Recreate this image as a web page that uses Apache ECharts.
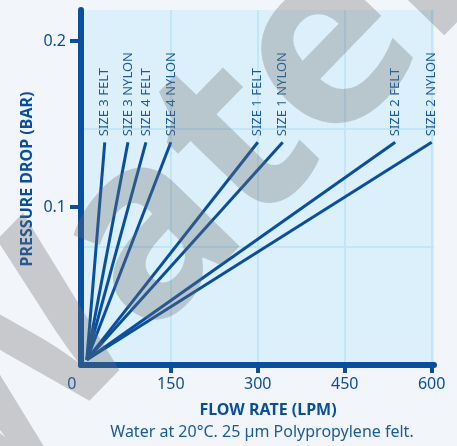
<!DOCTYPE html>
<html><head><meta charset="utf-8">
<script src="https://cdn.jsdelivr.net/npm/echarts@6/dist/echarts.min.js"></script>
<style>html,body{margin:0;padding:0;background:#f2f5f9;}#c{width:457px;height:446px;}</style>
</head><body><div id="c"></div>
<script>
const seriesNames = ['SIZE 3 FELT','SIZE 3 NYLON','SIZE 4 FELT','SIZE 4 NYLON','SIZE 1 FELT','SIZE 1 NYLON','SIZE 2 FELT','SIZE 2 NYLON'];
const startFlow = 5;
const startDrop = 0.008;
const endFlow = [36, 76, 107, 150, 300, 343, 537, 600];
const endDrop = [0.139, 0.139, 0.139, 0.139, 0.139, 0.139, 0.139, 0.139];
const xTicks = [0, 150, 300, 450, 600];
const yTicks = [0.1, 0.2];
const xTitle = 'FLOW RATE (LPM)';
const yTitle = 'PRESSURE DROP (BAR)';
const note = 'Water at 20°C. 25 µm Polypropylene felt.';
const watermark = 'Water';

const blue = '#0a4f9e';
const font = 'Noto Sans';
const chart = echarts.init(document.getElementById('c'), null, {renderer:'canvas'});
chart.setOption({
  backgroundColor: '#f2f5f9',
  animation: false,
  grid: [{left: 81, right: 23, top: 10, bottom: 81, show: true, backgroundColor: '#dcf0fc', borderWidth: 0}],
  xAxis: [{
    type: 'value', min: -5, max: 604,
    axisLine: {show: true, onZero: false, lineStyle: {color: blue, width: 6}},
    axisTick: {show: true, length: 8, lineStyle: {color: blue, width: 4}, customValues: xTicks.slice(1)},
    axisLabel: {customValues: xTicks, color: blue, fontSize: 16, fontFamily: font, margin: 11,
      formatter: v => v === 0 ? '{z|0}' : String(v),
      rich: {z: {color: blue, fontSize: 16, fontFamily: font, padding: [0, 24, 0, 0]}}},
    splitLine: {show: true, lineStyle: {color: '#c2e5f8', width: 2}}
  }],
  yAxis: [{
    type: 'value', min: 0.0048, max: 0.2187,
    axisLine: {show: true, onZero: false, lineStyle: {color: blue, width: 6}},
    axisTick: {show: true, length: 11, lineStyle: {color: blue, width: 4}, customValues: yTicks},
    axisLabel: {customValues: yTicks, color: blue, fontSize: 16, fontFamily: font, margin: 15, formatter: v => String(v)},
    splitLine: {show: false}
  }, {
    type: 'value', min: 0, max: 3, interval: 1, position: 'right',
    axisLine: {show: false}, axisTick: {show: false, customValues: [1, 2]}, axisLabel: {show: false},
    splitLine: {show: true, lineStyle: {color: '#c2e5f8', width: 2}}
  }],
  series: seriesNames.map((n, i) => ({
    type: 'line', name: n, xAxisIndex: 0, yAxisIndex: 0,
    symbol: 'circle', symbolSize: 0.1, showSymbol: true,
    itemStyle: {color: blue},
    lineStyle: {color: blue, width: 3},
    z: 3,
    data: [[startFlow, startDrop], {value: [endFlow[i], endDrop[i]],
      label: {show: true, formatter: n, position: 'top', rotate: 90, align: 'left', verticalAlign: 'middle',
        distance: 6, color: '#1a5b9b', fontSize: 13, fontFamily: font}}]
  })),
  graphic: [
    {type: 'text', x: 268, y: 410, style: {text: xTitle, fill: blue, font: 'bold 16px "Noto Sans"', textAlign: 'center', textVerticalAlign: 'middle'}},
    {type: 'text', x: 27, y: 179, rotation: Math.PI/2, style: {text: yTitle, fill: blue, font: 'bold 16px "Noto Sans"', textAlign: 'center', textVerticalAlign: 'middle'}},
    {type: 'text', x: 262, y: 432, style: {text: note, fill: '#1a5b9b', font: '16px "Noto Sans"', textAlign: 'center', textVerticalAlign: 'middle'}},
    {type: 'text', x: 195, y: 190, rotation: 0.8, z: 100, silent: true,
      style: {text: watermark, fill: 'rgba(110,110,110,0.32)', font: 'bold 250px "Noto Sans"', textAlign: 'center', textVerticalAlign: 'middle'}}
  ]
});
</script></body></html>
